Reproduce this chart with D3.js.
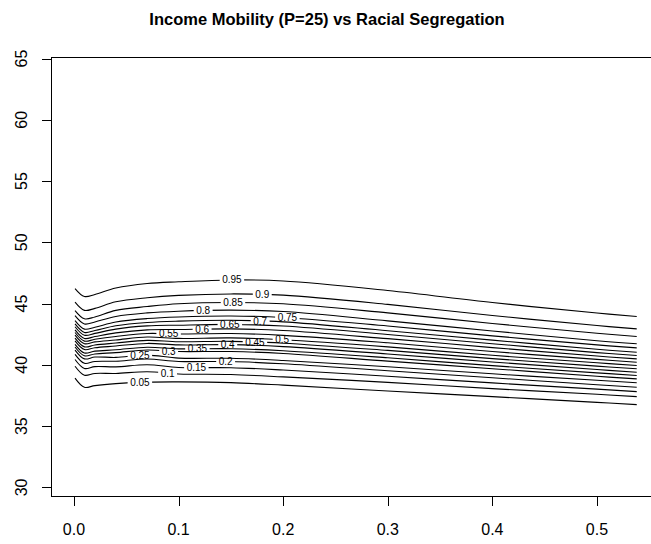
<!DOCTYPE html>
<html><head><meta charset="utf-8">
<script src="https://cdn.jsdelivr.net/npm/d3@7"></script>
<style>
body{margin:0;background:#fff}
text{font-family:"Liberation Sans",Arial,Helvetica,sans-serif;fill:#000}
</style>
</head><body>
<svg id="chart" width="651" height="544"></svg>
<script>
// ---- data ----
const title = "Income Mobility (P=25) vs Racial Segregation";
const xKnots = [0.001, 0.01, 0.02, 0.04, 0.07, 0.10, 0.15, 0.20, 0.30, 0.40, 0.50, 0.538];
const levels = [0.05, 0.1, 0.15, 0.2, 0.25, 0.3, 0.35, 0.4, 0.45, 0.5, 0.55, 0.6, 0.65, 0.7, 0.75, 0.8, 0.85, 0.9, 0.95];
const line005 = [38.92, 38.17, 38.31, 38.47, 38.59, 38.61, 38.55, 38.35, 37.87, 37.41, 36.94, 36.76];
const line010 = [39.89, 39.16, 39.30, 39.30, 39.44, 39.26, 39.21, 39.02, 38.57, 38.06, 37.60, 37.41];
const line015 = [40.44, 39.71, 39.86, 39.84, 40.01, 39.79, 39.77, 39.58, 39.07, 38.53, 38.02, 37.82];
const line020 = [40.86, 40.13, 40.28, 40.30, 40.48, 40.28, 40.27, 40.09, 39.52, 38.95, 38.38, 38.18];
const line025 = [41.21, 40.49, 40.64, 40.61, 40.80, 40.55, 40.54, 40.36, 39.85, 39.27, 38.74, 38.54];
const line030 = [41.46, 40.74, 40.89, 41.00, 41.21, 41.09, 41.09, 40.93, 40.31, 39.69, 39.07, 38.86];
const line035 = [41.68, 40.97, 41.12, 41.23, 41.44, 41.31, 41.32, 41.15, 40.58, 39.94, 39.35, 39.13];
const line040 = [41.96, 41.25, 41.40, 41.54, 41.75, 41.63, 41.65, 41.49, 40.89, 40.24, 39.62, 39.40];
const line045 = [42.18, 41.47, 41.62, 41.78, 42.00, 41.89, 41.92, 41.77, 41.18, 40.51, 39.90, 39.68];
const line050 = [42.43, 41.73, 41.88, 42.03, 42.27, 42.16, 42.20, 42.05, 41.47, 40.78, 40.17, 39.95];
const line055 = [42.64, 41.94, 42.09, 42.32, 42.56, 42.52, 42.56, 42.41, 41.80, 41.09, 40.45, 40.22];
const line060 = [42.86, 42.16, 42.31, 42.61, 42.86, 42.89, 42.94, 42.80, 42.14, 41.41, 40.72, 40.49];
const line065 = [43.11, 42.42, 42.57, 42.92, 43.18, 43.24, 43.30, 43.17, 42.48, 41.73, 41.00, 40.76];
const line070 = [43.34, 42.65, 42.80, 43.19, 43.46, 43.57, 43.64, 43.51, 42.79, 42.02, 41.27, 41.03];
const line075 = [43.61, 42.92, 43.07, 43.50, 43.78, 43.91, 43.99, 43.87, 43.17, 42.37, 41.63, 41.39];
const line080 = [44.02, 43.34, 43.50, 43.95, 44.24, 44.38, 44.47, 44.35, 43.59, 42.77, 41.97, 41.72];
const line085 = [44.43, 43.76, 43.91, 44.45, 44.76, 44.99, 45.09, 44.99, 44.24, 43.38, 42.58, 42.32];
const line090 = [45.12, 44.45, 44.61, 45.15, 45.48, 45.67, 45.79, 45.69, 44.94, 44.03, 43.21, 42.94];
const line095 = [46.23, 45.58, 45.74, 46.27, 46.64, 46.78, 46.93, 46.85, 46.07, 45.09, 44.23, 43.95];
const contourLines = [line005, line010, line015, line020, line025, line030, line035, line040, line045, line050,
                      line055, line060, line065, line070, line075, line080, line085, line090, line095];
const labelX = [0.063, 0.0895, 0.117, 0.145, 0.063, 0.0905, 0.118, 0.147, 0.173, 0.199,
                0.0905, 0.1225, 0.149, 0.178, 0.204, 0.1235, 0.152, 0.180, 0.151];
const xTicks = [0, 0.1, 0.2, 0.3, 0.4, 0.5];
const xTickLabels = ["0.0", "0.1", "0.2", "0.3", "0.4", "0.5"];
const yTicks = [30, 35, 40, 45, 50, 55, 60, 65];
const xLimits = [-0.0213, 0.5612];
const yLimits = [29.3, 65.1];

// ---- drawing ----
const svg = d3.select("#chart");
const x = d3.scaleLinear().domain(xLimits).range([51.7, 661]);
const y = d3.scaleLinear().domain(yLimits).range([496, 57.3]);

svg.append("text")
  .attr("x", 327).attr("y", 25)
  .attr("text-anchor", "middle")
  .style("font-size", "16.5px").style("font-weight", "bold")
  .text(title);

const defs = svg.append("defs");
const lineGen = d3.line().x((d, i) => x(xKnots[i])).y(d => y(d)).curve(d3.curveCatmullRom.alpha(0.5));
const gC = svg.append("g");

contourLines.forEach((vals, k) => {
  const lx = x(labelX[k]);
  const ly = y(d3.scaleLinear().domain(xKnots).range(vals)(labelX[k]));
  const lbl = gC.append("text")
    .attr("x", lx).attr("y", ly).attr("dy", "0.35em")
    .attr("text-anchor", "middle")
    .style("font-size", "10px")
    .text(String(levels[k]));
  const w = lbl.node().getComputedTextLength();
  const pad = 2.5;
  const cp = defs.append("clipPath").attr("id", "gap" + k);
  cp.append("rect").attr("x", 0).attr("y", 0).attr("width", lx - w / 2 - pad).attr("height", 544);
  cp.append("rect").attr("x", lx + w / 2 + pad).attr("y", 0).attr("width", 651).attr("height", 544);
  gC.insert("path", "text")
    .attr("d", lineGen(vals))
    .attr("fill", "none").attr("stroke", "#000").attr("stroke-width", 1.1)
    .attr("clip-path", "url(#gap" + k + ")");
});

// box
svg.append("rect")
  .attr("x", 51.5).attr("y", 57.5)
  .attr("width", x(xLimits[1]) - 51.5).attr("height", 496 - 57.5)
  .attr("fill", "none").attr("stroke", "#000").attr("stroke-width", 1)
  .attr("shape-rendering", "crispEdges");

// x axis
const gx = svg.append("g").attr("transform", "translate(0,496)")
  .call(d3.axisBottom(x).tickValues(xTicks).tickSize(10).tickFormat(""));
gx.select(".domain").remove();
gx.selectAll("line").attr("stroke", "#000").attr("shape-rendering", "crispEdges");
xTicks.forEach((t, i) => {
  svg.append("text").attr("x", x(t)).attr("y", 535)
    .attr("text-anchor", "middle").style("font-size", "16px").text(xTickLabels[i]);
});

// y axis
const gy = svg.append("g").attr("transform", "translate(51.5,0)")
  .call(d3.axisLeft(y).tickValues(yTicks).tickSize(10).tickFormat(""));
gy.select(".domain").remove();
gy.selectAll("line").attr("stroke", "#000").attr("shape-rendering", "crispEdges");
yTicks.forEach(t => {
  svg.append("text")
    .attr("transform", `translate(27,${y(t)}) rotate(-90)`)
    .attr("text-anchor", "middle").style("font-size", "16px").text(String(t));
});
</script>
</body></html>
